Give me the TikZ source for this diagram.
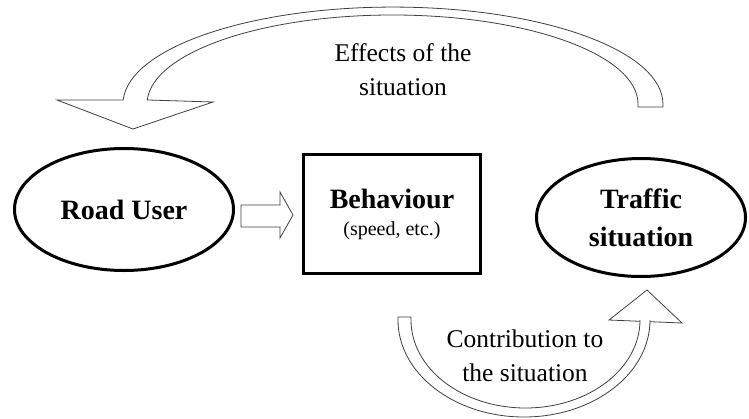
\documentclass[tikz,border=0pt]{standalone}
\usepackage{fontspec}
\setmainfont{Liberation Serif}
\usetikzlibrary{shapes,arrows}
\usetikzlibrary{positioning}

\begin{document}
\begin{tikzpicture}[x=1pt, y=1pt]
	\tikzstyle{agent} = [ellipse, draw, line width=3pt, inner sep=0pt, align=center, font=\fontsize{28}{38}\selectfont\bfseries];
	\tikzstyle{block} = [rectangle, draw, line width=3pt, inner sep=0pt, align=center, font=\fontsize{28}{27}\selectfont\bfseries];
	\tikzstyle{fatarrow} = [draw=black!75, fill=white, line width=0.8pt, line join=miter];
	\tikzstyle{lbl} = [align=center, font=\fontsize{25.5}{34}\selectfont];

	\useasboundingbox (0,0) rectangle (749,-418);

	\node [agent, minimum width=219, minimum height=122] (user)    at (124,-209.5) {Road User};
	\node [block, minimum width=177, minimum height=119] (behav)   at (392,-214)   {Behaviour\\{\fontsize{20}{27}\selectfont\mdseries (speed, etc.)}};
	\node [agent, minimum width=209, minimum height=118] (traffic) at (641,-217.5) {Traffic\\situation};

	% user -> behaviour
	\draw [fatarrow] (241,-205) -- (280,-205) -- (280,-192) -- (293,-215) -- (280,-238) -- (280,-227) -- (241,-227) -- cycle;

	% effects of the situation (top)
	\draw [fatarrow] (638,-107) -- (638,-104) arc [start angle=0, end angle=177.4, x radius=245.5, y radius=89]
		-- (213,-102) -- (133,-129) -- (57,-100) -- (123.2,-100)
		arc [start angle=177.6, end angle=0, x radius=270, y radius=97] -- (663,-107) -- cycle;
	\node [lbl] (effects) at (403,-70) {Effects of the\\situation};

	% contribution to the situation (bottom)
	\draw [fatarrow] (411,-317) -- (411,-320) arc [start angle=180, end angle=360, x radius=114.5, y radius=88]
		-- (640,-321.3) -- (609,-320) -- (647,-290) -- (682,-323) -- (650,-321.7)
		-- (650,-320) arc [start angle=0, end angle=-180, x radius=126, y radius=97] -- (398,-317) -- cycle;
	\node [lbl] (contrib) at (525,-356) {Contribution to\\the situation};
\end{tikzpicture}
\end{document}
